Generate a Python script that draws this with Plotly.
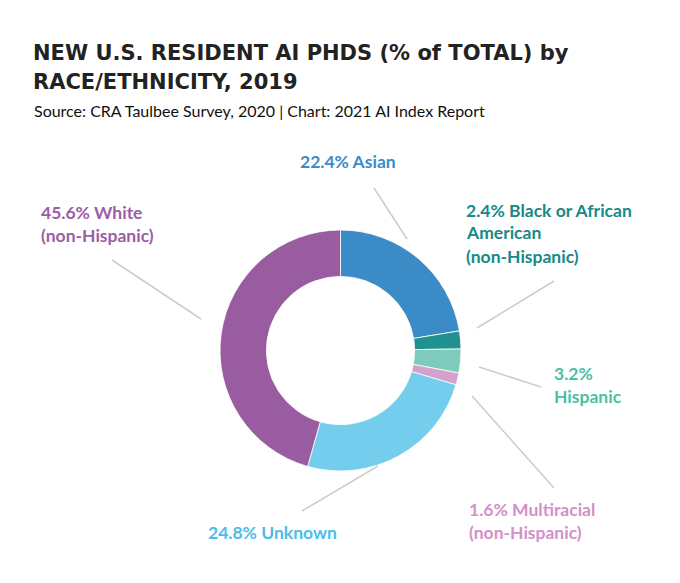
import plotly.graph_objects as go

# data
groups = ["Asian", "Black or African American (non-Hispanic)", "Hispanic",
          "Multiracial (non-Hispanic)", "Unknown", "White (non-Hispanic)"]
shares = [22.4, 2.4, 3.2, 1.6, 24.8, 45.6]
slice_colors = ["#3b8bc7", "#21918f", "#7ecbbb", "#d4a0cd", "#75cdee", "#9a5ca0"]
label_colors = ["#3b8bc9", "#158a88", "#4cc0a5", "#d38fc9", "#4cbde9", "#9b5ea5"]
label_lines = [
    ["22.4% Asian"],
    ["2.4% Black or African", "American", "(non-Hispanic)"],
    ["3.2%", "Hispanic"],
    ["1.6% Multiracial", "(non-Hispanic)"],
    ["24.8% Unknown"],
    ["45.6% White", "(non-Hispanic)"],
]
title_lines = ["NEW U.S. RESIDENT AI PHDS (% of TOTAL) by", "RACE/ETHNICITY, 2019"]
subtitle = "Source: CRA Taulbee Survey, 2020 | Chart: 2021 AI Index Report"

W, H = 680, 583
OFF = 8  # page body margin

def px(x):
    return (x - OFF) / W

def py(y):
    return 1 - (y - OFF) / H

# label anchors (left x, first line centre y) and leader lines, in pixels
label_pos = [(298, 162), (464, 210), (552, 373), (467, 509), (206, 532), (39, 212)]
leaders = [((374, 188), (407, 239)), ((554, 281), (477, 328)), ((479, 367), (541, 387)),
           ((472, 396), (554, 488)), ((378, 466), (302, 511)), ((112, 260), (201, 319))]
line_gap = 23

fig = go.Figure(go.Pie(
    labels=groups,
    values=shares,
    hole=0.615,
    sort=False,
    direction="clockwise",
    rotation=0,
    marker=dict(colors=slice_colors, line=dict(color="white", width=0.8)),
    textinfo="none",
    hoverinfo="label+percent",
    domain=dict(x=[px(220), px(461)], y=[py(471), py(230)]),
))

annotations = []
for i, t in enumerate(title_lines):
    annotations.append(dict(
        text=t, x=px(31), y=py(53 + i * 29), xref="paper", yref="paper",
        xanchor="left", yanchor="middle", showarrow=False,
        font=dict(family="DejaVu Sans", size=21, color="#222222", weight="bold")))
annotations.append(dict(
    text=subtitle, x=px(32), y=py(111), xref="paper", yref="paper",
    xanchor="left", yanchor="middle", showarrow=False,
    font=dict(family="Lato", size=16, color="#111111")))
for lines, (lx, ly), col in zip(label_lines, label_pos, label_colors):
    for i, t in enumerate(lines):
        annotations.append(dict(
            text=t, x=px(lx), y=py(ly + i * line_gap), xref="paper", yref="paper",
            xanchor="left", yanchor="middle", showarrow=False,
            font=dict(family="Lato", size=17.5, color=col, weight="bold")))

shapes = [dict(type="line", xref="paper", yref="paper",
               x0=px(a[0]), y0=py(a[1]), x1=px(b[0]), y1=py(b[1]),
               line=dict(color="#cccccc", width=1.5)) for a, b in leaders]

fig.update_layout(
    width=W, height=H,
    margin=dict(l=0, r=0, t=0, b=0),
    paper_bgcolor="white",
    plot_bgcolor="white",
    showlegend=False,
    annotations=annotations,
    shapes=shapes,
)

fig.write_html("out.html")
